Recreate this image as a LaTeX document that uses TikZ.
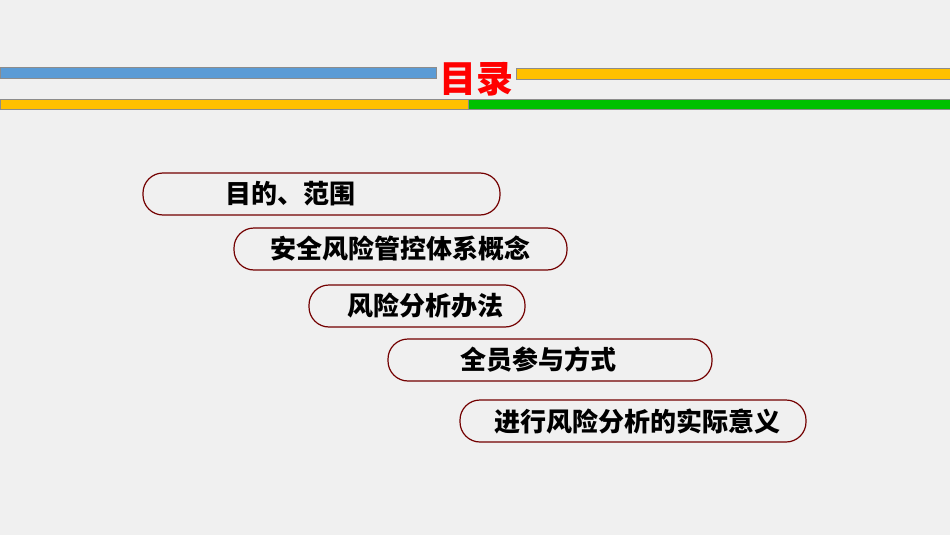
\documentclass[tikz,border=0pt]{standalone}
\usepackage{fontspec}
\newfontfamily\cjk{Noto Sans CJK SC}
\begin{document}
\begin{tikzpicture}[x=1pt,y=-1pt,
  pill/.style={draw=red!45!black,line width=1.2pt,rounded corners=20pt,fill=black!6},
  lbl/.style={font=\cjk\bfseries\fontsize{26}{30}\selectfont,text=black},
  bar/.style={draw=black!45,line width=0.5pt}]
\fill[black!6] (0,0) rectangle (950,535);
\useasboundingbox (0,0) rectangle (950,535);
\filldraw[bar,fill={rgb,255:red,91;green,155;blue,213}] (0,67) rectangle (436,78);
\filldraw[bar,fill={rgb,255:red,255;green,192;blue,0}] (516,68) rectangle (950,79);
\filldraw[bar,fill={rgb,255:red,255;green,192;blue,0}] (0,99) rectangle (468,109);
\filldraw[bar,fill={rgb,255:red,0;green,192;blue,0}] (468,99) rectangle (950,109);
\node[font=\cjk\bfseries\fontsize{37}{40}\selectfont,text=red] (title) at (476,79) {目录};
\draw[pill] (143,173) rectangle (500,215); \node[lbl] (t1) at (290,194) {目的、范围};
\draw[pill] (234,228) rectangle (567,270); \node[lbl] (t2) at (400,249) {安全风险管控体系概念};
\draw[pill] (309,285) rectangle (525,327); \node[lbl] (t3) at (425,306) {风险分析办法};
\draw[pill] (388,339) rectangle (712,381); \node[lbl] (t4) at (538,360) {全员参与方式};
\draw[pill] (460,400) rectangle (806,442); \node[lbl] (t5) at (637,421) {进行风险分析的实际意义};
\end{tikzpicture}
\end{document}
